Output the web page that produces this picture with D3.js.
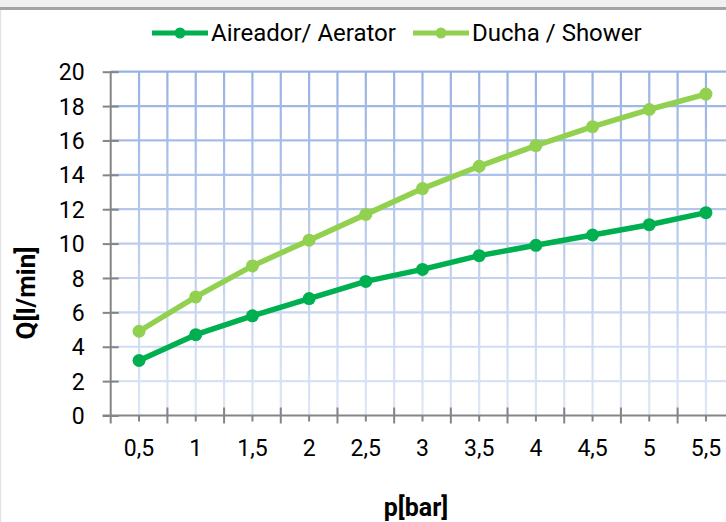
<!DOCTYPE html>
<html>
<head>
<meta charset="utf-8">
<script src="https://cdn.jsdelivr.net/npm/d3@7"></script>
<style>
  body { margin: 0; background: #fff; }
  text { font-family: Roboto, "Liberation Sans", sans-serif; fill: #000; }
</style>
</head>
<body>
<script>
// data
var pressure = ["0,5", "1", "1,5", "2", "2,5", "3", "3,5", "4", "4,5", "5", "5,5"]
var aerator = [3.2, 4.7, 5.8, 6.8, 7.8, 8.5, 9.3, 9.9, 10.5, 11.1, 11.8]
var shower = [4.9, 6.9, 8.7, 10.2, 11.7, 13.2, 14.5, 15.7, 16.8, 17.8, 18.7]
var yTicks = [0, 2, 4, 6, 8, 10, 12, 14, 16, 18, 20]
var seriesNames = ["Aireador/ Aerator", "Ducha / Shower"]
var seriesColors = ["#00b050", "#92d050"]

function main() {
  var W = 726, H = 522
  var left = 110.7, right = 734.3, top = 71.7, bottom = 415.5

  var svg = d3.select("body").append("svg").attr("width", W).attr("height", H)

  // frame bits at the top / left edge
  svg.append("rect").attr("x", 0).attr("y", 0).attr("width", W).attr("height", 7).attr("fill", "#f0f0f0")
  svg.append("rect").attr("x", 0).attr("y", 7).attr("width", W).attr("height", 3).attr("fill", "#a3a3a3")
  svg.append("rect").attr("x", 0).attr("y", 10).attr("width", 1.2).attr("height", H).attr("fill", "#e2e2e2")

  var x = d3.scaleBand().domain(pressure).range([left, right]).padding(0)
  var y = d3.scaleLinear().domain([0, 20]).range([bottom, top])

  // gridline gradient, darker on top
  var grad = svg.append("defs").append("linearGradient")
    .attr("id", "gridGrad").attr("gradientUnits", "userSpaceOnUse")
    .attr("x1", 0).attr("y1", top).attr("x2", 0).attr("y2", bottom)
  grad.append("stop").attr("offset", "0%").attr("stop-color", "#98b2e3")
  grad.append("stop").attr("offset", "100%").attr("stop-color", "#dfe7f6")

  var grid = svg.append("g").attr("stroke", "url(#gridGrad)").attr("stroke-width", 2.2)
  grid.selectAll("line.h").data(yTicks.slice(1)).enter().append("line")
    .attr("class", "h")
    .attr("x1", left).attr("x2", W)
    .attr("y1", function(d) { return y(d) }).attr("y2", function(d) { return y(d) })

  // vertical grid: category centres and boundaries
  var bounds = pressure.map(function(p) { return x(p) + x.bandwidth() })
  var centres = pressure.map(function(p) { return x(p) + x.bandwidth() / 2 })
  grid.selectAll("line.v").data(bounds.concat(centres)).enter().append("line")
    .attr("class", "v")
    .attr("x1", function(d) { return d }).attr("x2", function(d) { return d })
    .attr("y1", top).attr("y2", bottom)

  // axes
  var axisColor = "#858585"
  var yAxis = svg.append("g").attr("transform", "translate(" + left + ",0)")
    .call(d3.axisLeft(y).tickValues(yTicks).tickSize(8).tickPadding(18))
  yAxis.select(".domain").attr("stroke", axisColor).attr("stroke-width", 2)
    .attr("d", "M0," + (bottom + 8) + "V" + top)
  yAxis.selectAll(".tick line").attr("stroke", axisColor).attr("stroke-width", 2).attr("x2", 8).attr("x1", -8)
  yAxis.selectAll(".tick text").attr("font-size", 23).attr("x", -26).attr("dy", "0.35em")
    .style("font-family", "Roboto")

  var xAxis = svg.append("g").attr("transform", "translate(0," + bottom + ")")
    .call(d3.axisBottom(x).tickSize(6).tickPadding(30))
  xAxis.select(".domain").attr("stroke", axisColor).attr("stroke-width", 2)
    .attr("d", "M" + (left - 8) + ",0H" + W)
  xAxis.selectAll(".tick line").attr("stroke", axisColor).attr("stroke-width", 2)
  xAxis.selectAll(".tick text").attr("font-size", 23).attr("dy", "0.2em")
    .style("font-family", "Roboto")
  xAxis.selectAll("line.major").data(bounds).enter().append("line")
    .attr("class", "major")
    .attr("x1", function(d) { return d }).attr("x2", function(d) { return d })
    .attr("y1", -8).attr("y2", 8)
    .attr("stroke", axisColor).attr("stroke-width", 2)

  // series
  var series = [aerator, shower]
  var line = d3.line()
    .x(function(d, i) { return centres[i] })
    .y(function(d) { return y(d) })
  series.forEach(function(vals, k) {
    var g = svg.append("g")
    g.append("path").datum(vals).attr("d", line)
      .attr("fill", "none").attr("stroke", seriesColors[k]).attr("stroke-width", 5.5)
      .attr("stroke-linejoin", "round")
    g.selectAll("circle").data(vals).enter().append("circle")
      .attr("cx", function(d, i) { return centres[i] })
      .attr("cy", function(d) { return y(d) })
      .attr("r", 6.5).attr("fill", seriesColors[k])
  })

  // legend
  var legendX = [152, 413]
  seriesNames.forEach(function(name, k) {
    var lx = legendX[k]
    svg.append("line").attr("x1", lx).attr("x2", lx + 56).attr("y1", 33).attr("y2", 33)
      .attr("stroke", seriesColors[k]).attr("stroke-width", 5)
    svg.append("circle").attr("cx", lx + 28).attr("cy", 33).attr("r", 5.5).attr("fill", seriesColors[k])
    svg.append("text").attr("x", lx + 59).attr("y", 41).attr("font-size", 24).text(name)
  })

  // axis titles
  svg.append("text").attr("x", 416).attr("y", 516).attr("text-anchor", "middle")
    .attr("font-size", 25).attr("font-weight", "bold").text("p[bar]")
  svg.append("text").attr("transform", "translate(35,293) rotate(-90)").attr("text-anchor", "middle")
    .attr("font-size", 26).attr("font-weight", "bold").text("Q[l/min]")
}

main()
</script>
</body>
</html>
